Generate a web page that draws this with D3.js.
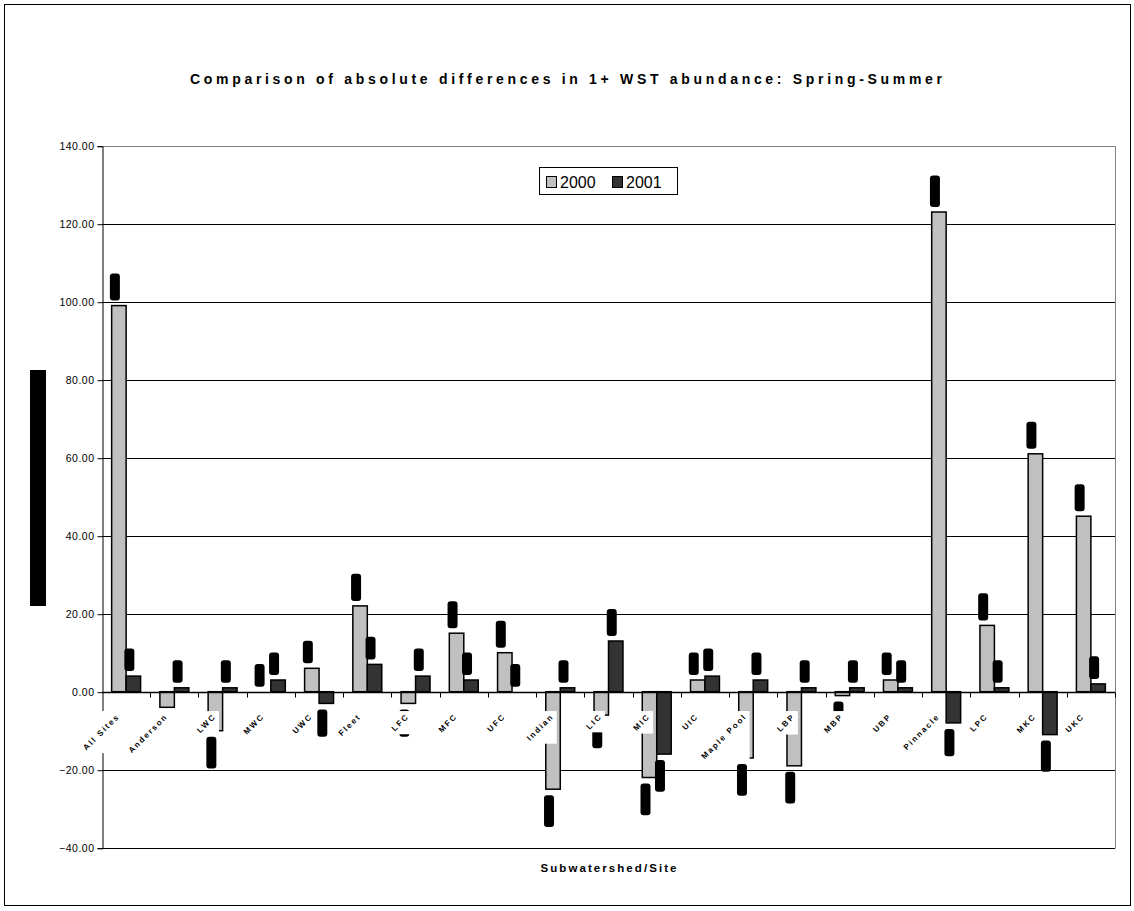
<!DOCTYPE html>
<html>
<head>
<meta charset="utf-8">
<script src="https://cdn.jsdelivr.net/npm/d3@7"></script>
<style>
  body { margin: 0; background: #fff; }
  svg { display: block; font-family: "Liberation Sans", Arial, sans-serif; }
</style>
</head>
<body>
<script>
const categories = ['All Sites', 'Anderson', 'LWC', 'MWC', 'UWC', 'Fleet', 'LFC', 'MFC', 'UFC', 'Indian',
  'LIC', 'MIC', 'UIC', 'Maple Pool', 'LBP', 'MBP', 'UBP', 'Pinnacle', 'LPC', 'MKC', 'UKC'];
const seriesNames = ['2000', '2001'];
const values2000 = [99, -4, -10, 0, 6, 22, -3, 15, 10, -25, -6, -22, 3, -17, -19, -1, 3, 123, 17, 61, 45];
const values2001 = [4, 1, 1, 3, -3, 7, 4, 3, 0, 1, 13, -16, 4, 3, 1, 1, 1, -8, 1, -11, 2];
const yTicks = [-40, -20, 0, 20, 40, 60, 80, 100, 120, 140];
const colors = ['#c0c0c0', '#333333'];

const w = 1134, h = 911;
const padL = 102, padR = 1115, padT = 145.7, padB = 847.7;

const svg = d3.select('body').append('svg')
  .attr('width', w)
  .attr('height', h);

// outer chart frame
svg.append('rect')
  .attr('x', 4.5).attr('y', 4.5)
  .attr('width', 1126).attr('height', 901)
  .attr('fill', '#fff').attr('stroke', '#000');

const x0 = d3.scaleBand().domain(categories).range([padL, padR]).paddingInner(0.4).paddingOuter(0.2);
const x1 = d3.scaleBand().domain(seriesNames).range([0, x0.bandwidth()]);
const y = d3.scaleLinear().domain([-40, 140]).range([padB, padT]);

// gridlines
svg.append('g')
  .selectAll('line')
  .data(yTicks)
  .enter().append('line')
  .attr('x1', padL).attr('x2', padR)
  .attr('y1', d => Math.round(y(d)) + 0.5).attr('y2', d => Math.round(y(d)) + 0.5)
  .attr('stroke', '#000');

// plot area border top / right
svg.append('path')
  .attr('d', `M${padL},${Math.round(padT) + 0.5}H${padR + 0.5}V${Math.round(padB) + 0.5}`)
  .attr('fill', 'none').attr('stroke', '#808080');

// y axis
const yAxis = d3.axisLeft(y).tickValues(yTicks).tickSize(5).tickFormat(d3.format('.2f'));
const gy = svg.append('g')
  .attr('transform', `translate(${padL + 0.5},0.5)`)
  .call(yAxis);
gy.select('.domain').attr('stroke', '#000');
gy.selectAll('.tick line').attr('stroke', '#000');
gy.selectAll('.tick text')
  .attr('x', -8)
  .style('font-family', '"Liberation Sans", Arial, sans-serif')
  .style('font-size', '10.5px')
  .style('letter-spacing', '0.5px')
  .attr('fill', '#000');

// bars
const rows = categories.map((c, i) => ({ cat: c, vals: [values2000[i], values2001[i]] }));

const groups = svg.append('g')
  .selectAll('g')
  .data(rows)
  .enter().append('g')
  .attr('transform', d => `translate(${x0(d.cat)},0)`);

groups.selectAll('rect')
  .data(d => d.vals.map((v, k) => ({ v, k })))
  .enter().append('rect')
  .attr('x', d => x1(seriesNames[d.k]))
  .attr('width', x1.bandwidth())
  .attr('y', d => y(Math.max(0, d.v)))
  .attr('height', d => Math.abs(y(d.v) - y(0)))
  .attr('fill', d => colors[d.k])
  .attr('stroke', '#000')
  .attr('stroke-width', 1.5);

// zero axis with category ticks
const zeroY = Math.round(y(0)) + 0.5;
svg.append('line')
  .attr('x1', padL).attr('x2', padR)
  .attr('y1', zeroY).attr('y2', zeroY)
  .attr('stroke', '#000').attr('stroke-width', 1.5);

const step = x0.step();
svg.append('g')
  .selectAll('line')
  .data(categories)
  .enter().append('line')
  .attr('x1', (d, i) => Math.round(padL + step * (i + 1)) + 0.5)
  .attr('x2', (d, i) => Math.round(padL + step * (i + 1)) + 0.5)
  .attr('y1', zeroY).attr('y2', zeroY + 5)
  .attr('stroke', '#000');

// data labels (rendered as dark blobs)
const labelG = svg.append('g');
rows.forEach(r => {
  r.vals.forEach((v, k) => {
    const cx = x0(r.cat) + x1(seriesNames[k]) + x1.bandwidth() / 2 - 4;
    const txt = d3.format('.2f')(v);
    const g = labelG.append('g');
    const t = g.append('text')
      .text(txt)
      .attr('font-size', 8)
      .attr('font-weight', 'bold')
      .attr('fill', '#000')
      .attr('text-anchor', 'middle');
    const len = t.node().getComputedTextLength() + 7;
    const y0 = v >= 0 ? y(v) - 5 - len : y(v) + 6;
    g.insert('rect', 'text')
      .attr('x', cx - 5).attr('y', y0)
      .attr('width', 10).attr('height', len)
      .attr('rx', 3)
      .attr('fill', '#000');
    t.attr('transform', `translate(${cx + 3},${y0 + len / 2}) rotate(-90)`);
  });
});

// category labels with white boxes
const catG = svg.append('g');
categories.forEach(c => {
  const cx = x0(c) + x0.bandwidth() / 2;
  const g = catG.append('g');
  const t = g.append('text')
    .text(c)
    .attr('font-size', 8)
    .attr('font-weight', 'bold')
    .attr('letter-spacing', 1.8)
    .attr('text-anchor', 'end')
    .attr('fill', '#000')
    .attr('transform', `translate(${cx - 6},717) rotate(-45)`);
  const bb = t.node().getBoundingClientRect();
  g.insert('rect', 'text')
    .attr('x', bb.left - 1).attr('y', bb.top - 1)
    .attr('width', bb.width + 2).attr('height', bb.height + 2)
    .attr('fill', '#fff');
});

// titles
svg.append('text')
  .attr('x', 566).attr('y', 84)
  .attr('text-anchor', 'middle')
  .attr('font-size', 14)
  .attr('font-weight', 'bold')
  .attr('textLength', 752)
  .attr('lengthAdjust', 'spacing')
  .text('Comparison of absolute differences in 1+ WST abundance: Spring-Summer');

svg.append('text')
  .attr('x', (padL + padR) / 2).attr('y', 872)
  .attr('text-anchor', 'middle')
  .attr('font-size', 11.5)
  .attr('font-weight', 'bold')
  .attr('textLength', 136)
  .attr('lengthAdjust', 'spacing')
  .text('Subwatershed/Site');

// y axis title (rendered as a dark block)
const yt = svg.append('g');
yt.append('rect')
  .attr('x', 30).attr('y', 370)
  .attr('width', 16).attr('height', 236)
  .attr('fill', '#000');
yt.append('text')
  .attr('transform', 'translate(42,488) rotate(-90)')
  .attr('text-anchor', 'middle')
  .attr('font-size', 11)
  .attr('font-weight', 'bold')
  .attr('fill', '#000')
  .text('Absolute difference (fish/100m)');

// legend
const lg = svg.append('g');
lg.append('rect')
  .attr('x', 539.5).attr('y', 167.5)
  .attr('width', 138).attr('height', 27)
  .attr('fill', '#fff').attr('stroke', '#000');
const legX = [546, 612];
seriesNames.forEach((s, k) => {
  lg.append('rect')
    .attr('x', legX[k] + 0.5).attr('y', 176.5)
    .attr('width', 10).attr('height', 11)
    .attr('fill', colors[k]).attr('stroke', '#000');
  lg.append('text')
    .attr('x', legX[k] + 14).attr('y', 188)
    .attr('font-size', 16)
    .attr('fill', '#000')
    .text(s);
});
</script>
</body>
</html>
